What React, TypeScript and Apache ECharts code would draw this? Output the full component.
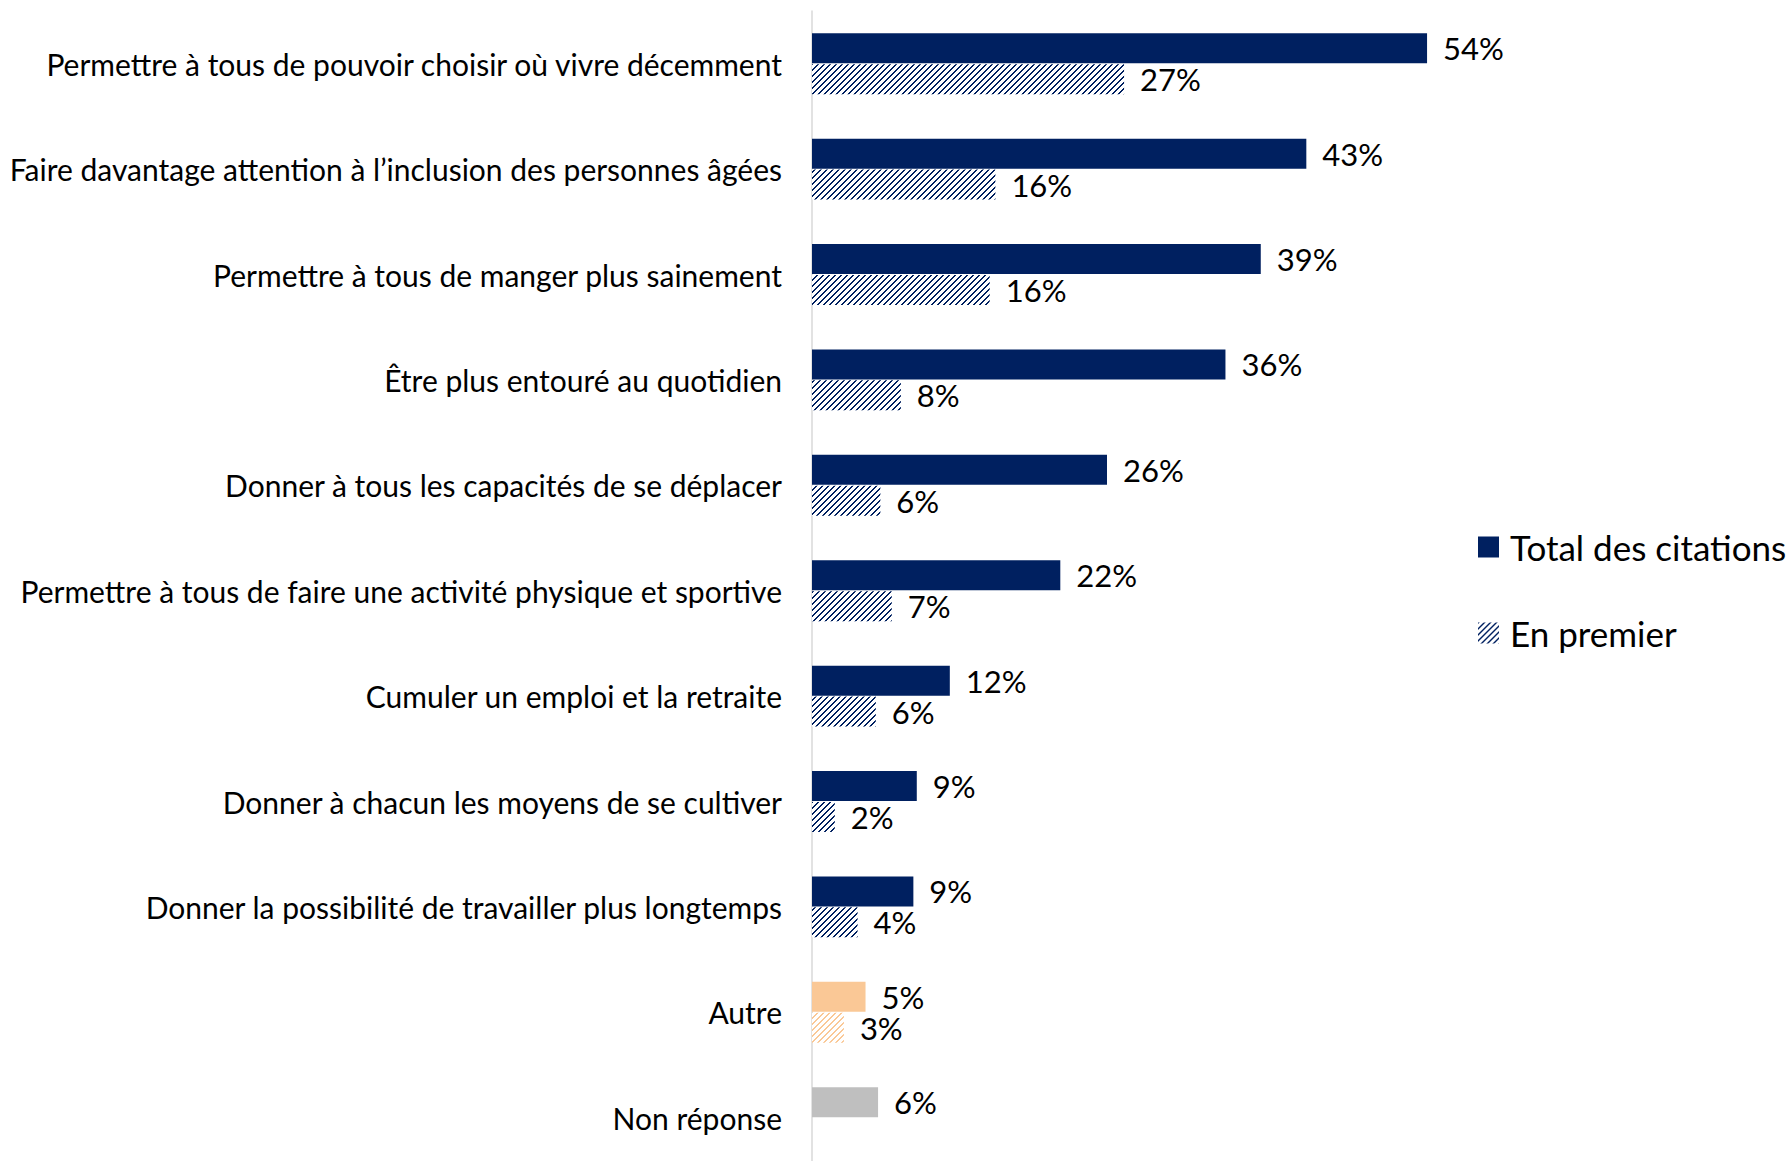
import React, { useEffect, useRef } from "react";
import * as echarts from "echarts";

const categories = [
  "Permettre à tous de pouvoir choisir où vivre décemment",
  "Faire davantage attention à l’inclusion des personnes âgées",
  "Permettre à tous de manger plus sainement",
  "Être plus entouré au quotidien",
  "Donner à tous les capacités de se déplacer",
  "Permettre à tous de faire une activité physique et sportive",
  "Cumuler un emploi et la retraite",
  "Donner à chacun les moyens de se cultiver",
  "Donner la possibilité de travailler plus longtemps",
  "Autre",
  "Non réponse",
];

const totalValues = [54, 43.4, 39.4, 36.3, 25.9, 21.8, 12.1, 9.2, 8.9, 4.7, 5.8];
const premierValues: (number | null)[] = [27.4, 16.1, 15.6, 7.8, 6.0, 7.0, 5.6, 2.0, 4.0, 2.8, null];

const seriesNames = ["Total des citations", "En premier"];

const NAVY = "#002060";
const ORANGE = "#FAC896";
const GREY = "#BFBFBF";
const FONT = "Lato";

function makeHatch(color: string) {
  const c = document.createElement("canvas");
  c.width = 6;
  c.height = 6;
  const ctx = c.getContext("2d")!;
  ctx.fillStyle = "#ffffff";
  ctx.fillRect(0, 0, 6, 6);
  ctx.fillStyle = color;
  for (let y = 0; y < 6; y++) {
    const x = 5 - y;
    ctx.fillRect(x, y, 1, 1);
    ctx.fillRect((x + 1) % 6, y, 1, 1);
  }
  return { image: c, repeat: "repeat" };
}

export default function App() {
  const ref = useRef<HTMLDivElement>(null);
  useEffect(() => {
    if (!ref.current) return;
    const chart = echarts.init(ref.current, null, { renderer: "svg" });
    const navyHatch = makeHatch(NAVY);
    const orangeHatch = makeHatch(ORANGE);
    const label = {
      show: true,
      position: "right",
      distance: 16,
      color: "#000",
      fontFamily: FONT,
      fontSize: 31,
      formatter: (p: any) => Math.round(p.value) + "%",
    };
    const totalData = totalValues.map((v, i) => {
      if (categories[i] === "Autre") return { value: v, itemStyle: { color: ORANGE } };
      if (categories[i] === "Non réponse") return { value: v, itemStyle: { color: GREY } };
      return v;
    });
    const premierData = premierValues.map((v, i) => {
      if (v == null) return "-";
      if (categories[i] === "Autre") return { value: v, itemStyle: { color: orangeHatch } };
      return v;
    });
    chart.setOption({
      animation: false,
      grid: { left: 812, top: 11, width: 683.4, height: 1159.4 },
      xAxis: {
        type: "value",
        min: 0,
        max: 60,
        show: false,
      },
      yAxis: {
        type: "category",
        inverse: true,
        data: categories,
        axisLine: { show: true, lineStyle: { color: "#D9D9D9", width: 1.5 } },
        axisTick: { show: false },
        axisLabel: {
          margin: 30,
          color: "#000",
          fontFamily: FONT,
          fontSize: 30,
        },
        splitLine: { show: false },
      },
      legend: {
        orient: "vertical",
        left: 1478,
        top: 527,
        padding: 0,
        itemWidth: 21,
        itemHeight: 21,
        itemGap: 46,
        icon: "rect",
        textStyle: {
          fontFamily: FONT,
          fontSize: 35,
          color: "#000",
          lineHeight: 40,
          padding: [0, 0, 0, 6],
        },
        data: seriesNames,
      },
      series: [
        {
          name: seriesNames[0],
          type: "bar",
          data: totalData,
          barWidth: 30,
          barGap: "3%",
          itemStyle: { color: NAVY },
          label,
          emphasis: { disabled: true },
        },
        {
          name: seriesNames[1],
          type: "bar",
          data: premierData,
          barWidth: 30,
          barGap: "3%",
          itemStyle: { color: navyHatch },
          label,
          emphasis: { disabled: true },
        },
      ],
    });
    return () => chart.dispose();
  }, []);
  return (
    <div
      ref={ref}
      style={{ position: "fixed", left: 0, top: 0, width: 1790, height: 1175, background: "#fff" }}
    />
  );
}
